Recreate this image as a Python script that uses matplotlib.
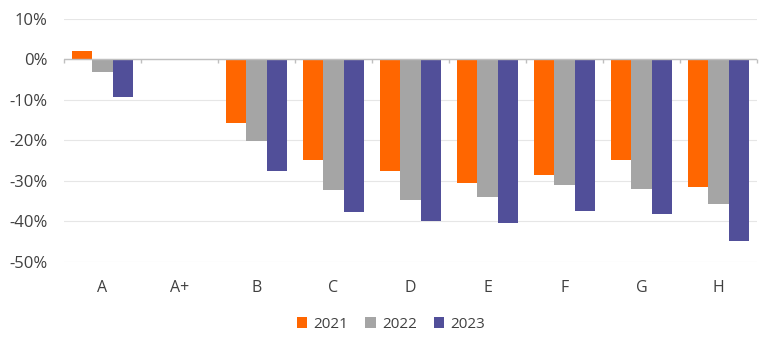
import matplotlib
matplotlib.use("Agg")
import matplotlib.pyplot as plt
import numpy as np

categories = ["A", "A+", "B", "C", "D", "E", "F", "G", "H"]
years = ["2021", "2022", "2023"]
v2021 = [2.1, np.nan, -15.7, -24.9, -27.5, -30.5, -28.5, -24.8, -31.6]
v2022 = [-3.0, np.nan, -20.1, -32.3, -34.8, -34.0, -31.0, -32.1, -35.7]
v2023 = [-9.2, np.nan, -27.6, -37.6, -40.0, -40.4, -37.5, -38.2, -44.8]
yticks = [10, 0, -10, -20, -30, -40, -50]
colors = ["#FF6600", "#A5A5A5", "#514F99"]

plt.rcParams['font.family'] = ['Open Sans', 'DejaVu Sans']
fig = plt.figure(figsize=(7.68, 3.52), dpi=100)
ax = fig.add_axes([64/768, 1-261.7/352, (757-64)/768, (261.7-19)/352])

x = np.arange(len(categories))
w = 0.26
for i, (vals, c, lab) in enumerate(zip([v2021, v2022, v2023], colors, years)):
    ax.bar(x + (i-1)*w, vals, width=w, color=c, label=lab, zorder=3)

ax.set_xlim(-0.5, len(categories)-0.5)
ax.set_ylim(-50, 10)
ax.set_yticks(yticks)
ax.set_yticklabels([f"{t}%" for t in yticks], fontsize=12, color="#404040")
ax.set_xticks(x)
ax.set_xticklabels(categories, fontsize=11.5, color="#404040")
ax.tick_params(axis='x', length=0, pad=13)
ax.tick_params(axis='y', length=0, pad=12)
for s in ax.spines.values():
    s.set_visible(False)
ax.grid(axis='y', color="#E6E6E6", linewidth=0.8, zorder=0)
ax.axhline(0, color="#BFBFBF", linewidth=1.0, zorder=4)
ax.vlines(np.arange(len(categories)+1)-0.5, -1.0, 0, color="#BFBFBF", linewidth=1.0, zorder=4, clip_on=False)

fig.legend(loc='center', bbox_to_anchor=(391/768, 1-324/352), ncol=3, frameon=False,
           fontsize=11, handlelength=0.7, handleheight=0.7, handletextpad=0.4,
           columnspacing=1.1, labelcolor="#404040")

fig.savefig("out.png", dpi=100)
